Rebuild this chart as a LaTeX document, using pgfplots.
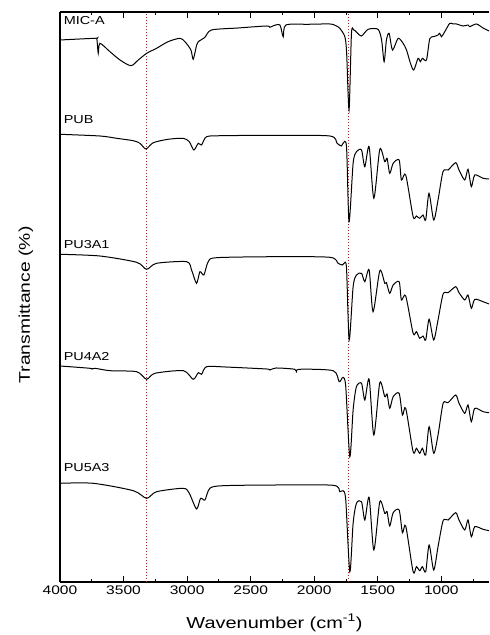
\documentclass[border=0pt]{standalone}
\usepackage{fontspec}
\setmainfont[FakeStretch=1.25]{Liberation Sans}
\usepackage{pgfplots}
\pgfplotsset{compat=1.18}

\begin{document}
\begin{tikzpicture}
\begin{axis}[
    name=ax,
    scale only axis,
    width=429bp, height=570bp,
    x dir=reverse,
    xmin=625, xmax=4000,
    ymin=0, ymax=570,
    axis x line=box, axis y line=left,
    axis line style={-, line width=1.1bp},
    xtick={1000,1500,...,4000},
    minor xtick={750,1250,...,3750},
    ytick=\empty,
    minor ytick={40,140,...,540},
    tick align=inside,
    major tick length=6bp, minor tick length=3bp,
    tick style={line width=1bp, black},
    /pgf/number format/1000 sep={},
    /pgf/number format/assume math mode=true,
    xticklabel style={font=\fontsize{12.5}{14}\selectfont},
    clip=false,
    spec/.style={black, solid, mark=none, line width=1bp, smooth, tension=0.45},
    marker/.style={red, mark=none, line width=0.75bp, dash pattern=on 1.2bp off 1.8bp},
]

% marker lines (N-H and C=O)
\addplot[marker] coordinates {(3320,0) (3320,570)};
\addplot[marker] coordinates {(1728,0) (1728,570)};

% MIC-A
\addplot[spec] coordinates {
(4000,542) (3725,543.7) (3710,543) (3699,528.7) (3686,538.7) (3607,530.3)
(3528,522) (3442,516.3) (3384,522) (3318,528.7) (3240,533.7) (3150,540.3)
(3057,543.7) (3017,540.3) (2970,532) (2952,522.7) (2925,537) (2912,540.3)
(2860,544.7) (2808,552) (2600,554) (2375,556) (2349,554.7) (2320,556.3)
(2270,557) (2244,545.3) (2223,557) (2050,557.7) (1877,558) (1830,556.3)
(1799,553.7) (1759,545.3) (1745,529) (1726,472) (1707,548.7) (1689,552)
(1668,550) (1628,546) (1576,552.7) (1498,552.7) (1470,542) (1450,520.3)
(1432,542) (1411,548.7) (1384,532) (1340,543.7) (1301,538.7) (1274,532)
(1243,518.7) (1217,512) (1183,523.7) (1165,520.3) (1149,523.7) (1117,522)
(1091,543.3) (1060,545.3) (1026,547) (1013,548.7) (999,545.3) (973,550.3)
(934,558.7) (908,558) (881,558) (829,556) (790,557) (777,555.3)
(724,558) (672,554) (625,551)
};

% PUB
\addplot[spec] coordinates {
(4000,447.7) (3686,446) (3555,443.7) (3424,441.3) (3371,438.7) (3324,433)
(3266,439.3) (3150,442.7) (3031,443.7) (2983,440.3) (2947,432) (2912,438.7)
(2886,437) (2847,445.3) (2716,446.3) (2300,446.7) (1877,446) (1820,438.7)
(1786,436) (1773,438.7) (1746,435.3) (1726,360.3) (1694,418.7) (1668,430.3)
(1628,432) (1602,415.3) (1568,435.3) (1531,383.7) (1484,432.7) (1445,420.3)
(1427,423.7) (1406,408.7) (1379,418.7) (1332,422) (1314,402) (1280,407)
(1222,365.3) (1196,366) (1170,363.7) (1144,367) (1123,362) (1097,388.7)
(1060,362) (1026,382) (987,410.3) (947,412) (887,419.3) (861,412)
(816,402) (790,412.7) (764,395.3) (737,407) (672,403.7) (625,403)
};

% PU3A1
\addplot[spec] coordinates {
(4000,327.7) (3686,326) (3397,319.7) (3319,312.7) (3240,318.7) (3004,320.3)
(2965,312) (2926,298.7) (2899,310.3) (2868,307) (2834,320.3) (2768,324.3)
(2300,325.3) (1877,324.7) (1812,318.7) (1778,317) (1765,318.7) (1746,314)
(1725,242) (1694,295.3) (1668,307) (1628,308.7) (1602,300.3) (1568,312)
(1537,270.3) (1484,311.3) (1445,298.7) (1432,299.3) (1406,288.7) (1379,297)
(1332,300.3) (1314,282) (1280,286) (1222,248.7) (1196,250.3) (1170,243.7)
(1144,246) (1123,242) (1096,262.7) (1060,242) (1026,262) (986,288)
(947,289.3) (887,295.3) (861,289.3) (816,282) (790,287) (764,273.7)
(737,282.7) (672,280.3) (625,278)
};

% PU4A2
\addplot[spec] coordinates {
(4000,216) (3764,213.7) (3751,212.7) (3725,213.7) (3607,211.3) (3397,210.3)
(3319,202.7) (3253,208.7) (3030,211.3) (2952,202.7) (2912,209.3) (2886,207.7)
(2847,215.3) (2700,215) (2375,213) (2349,212) (2300,214) (2153,212.7)
(2139,209.3) (2118,212.7) (1851,211.3) (1804,200.3) (1773,204.7) (1752,195.3)
(1720,125.3) (1694,172) (1668,195.3) (1628,198.7) (1602,182) (1568,202.7)
(1531,147) (1484,199.3) (1445,185.3) (1427,188) (1406,173.7) (1379,185.3)
(1332,188.7) (1306,167) (1280,173.7) (1222,130.3) (1196,133.7) (1170,128.7)
(1149,133.7) (1123,127) (1096,155.3) (1060,128.7) (1026,147) (986,178.7)
(947,179.3) (887,187) (861,178.7) (816,168.7) (790,177) (764,160.3)
(737,173.7) (672,170.3) (625,169.3)
};

% PU5A3
\addplot[spec] coordinates {
(4000,98.7) (3738,98.7) (3423,91.3) (3319,83.7) (3240,90.3) (3030,93.7)
(2983,88.7) (2926,73) (2894,83.7) (2860,82) (2821,93.7) (2716,96.3)
(2300,97) (1851,96.7) (1799,90.3) (1773,91.3) (1752,82) (1720,10.3)
(1694,58.7) (1668,78.7) (1628,80.3) (1602,62) (1568,84.7) (1531,32)
(1484,80.3) (1445,68.7) (1427,70.3) (1406,56) (1379,69.3) (1332,72)
(1306,49.3) (1280,56) (1222,10.3) (1196,15.3) (1170,11.3) (1149,15.3)
(1123,10.3) (1096,37) (1060,12) (1026,35.3) (986,61.3) (947,62)
(887,69.3) (861,62) (816,52) (790,62) (764,45.3) (737,55.3)
(672,52.7) (625,51.3)
};

\begin{scope}[font=\fontsize{11.6}{13}\selectfont, inner sep=0pt]
\node[anchor=base west] at (axis cs:3972,557) {MIC-A};
\node[anchor=base west] at (axis cs:3972,458.7) {PUB};
\node[anchor=base west] at (axis cs:3972,333.7) {PU3A1};
\node[anchor=base west] at (axis cs:3972,221.3) {PU4A2};
\node[anchor=base west] at (axis cs:3972,110.3) {PU5A3};
\end{scope}

\node[anchor=base, inner sep=0pt, font=\fontsize{16}{18}\selectfont]
  at ([yshift=-46bp]rel axis cs:0.5,0) {Wavenumber (cm\textsuperscript{-1})};
\node[anchor=base, rotate=90, inner sep=0pt, font=\fontsize{15.5}{18}\selectfont]
  at ([xshift=-30bp,yshift=-8bp]rel axis cs:0,0.5) {Transmittance (\%)};
\end{axis}
\pgfresetboundingbox
\path[use as bounding box] ([xshift=-60bp,yshift=-53bp]ax.south west) rectangle ([yshift=12bp]ax.north east);
\end{tikzpicture}
\end{document}
